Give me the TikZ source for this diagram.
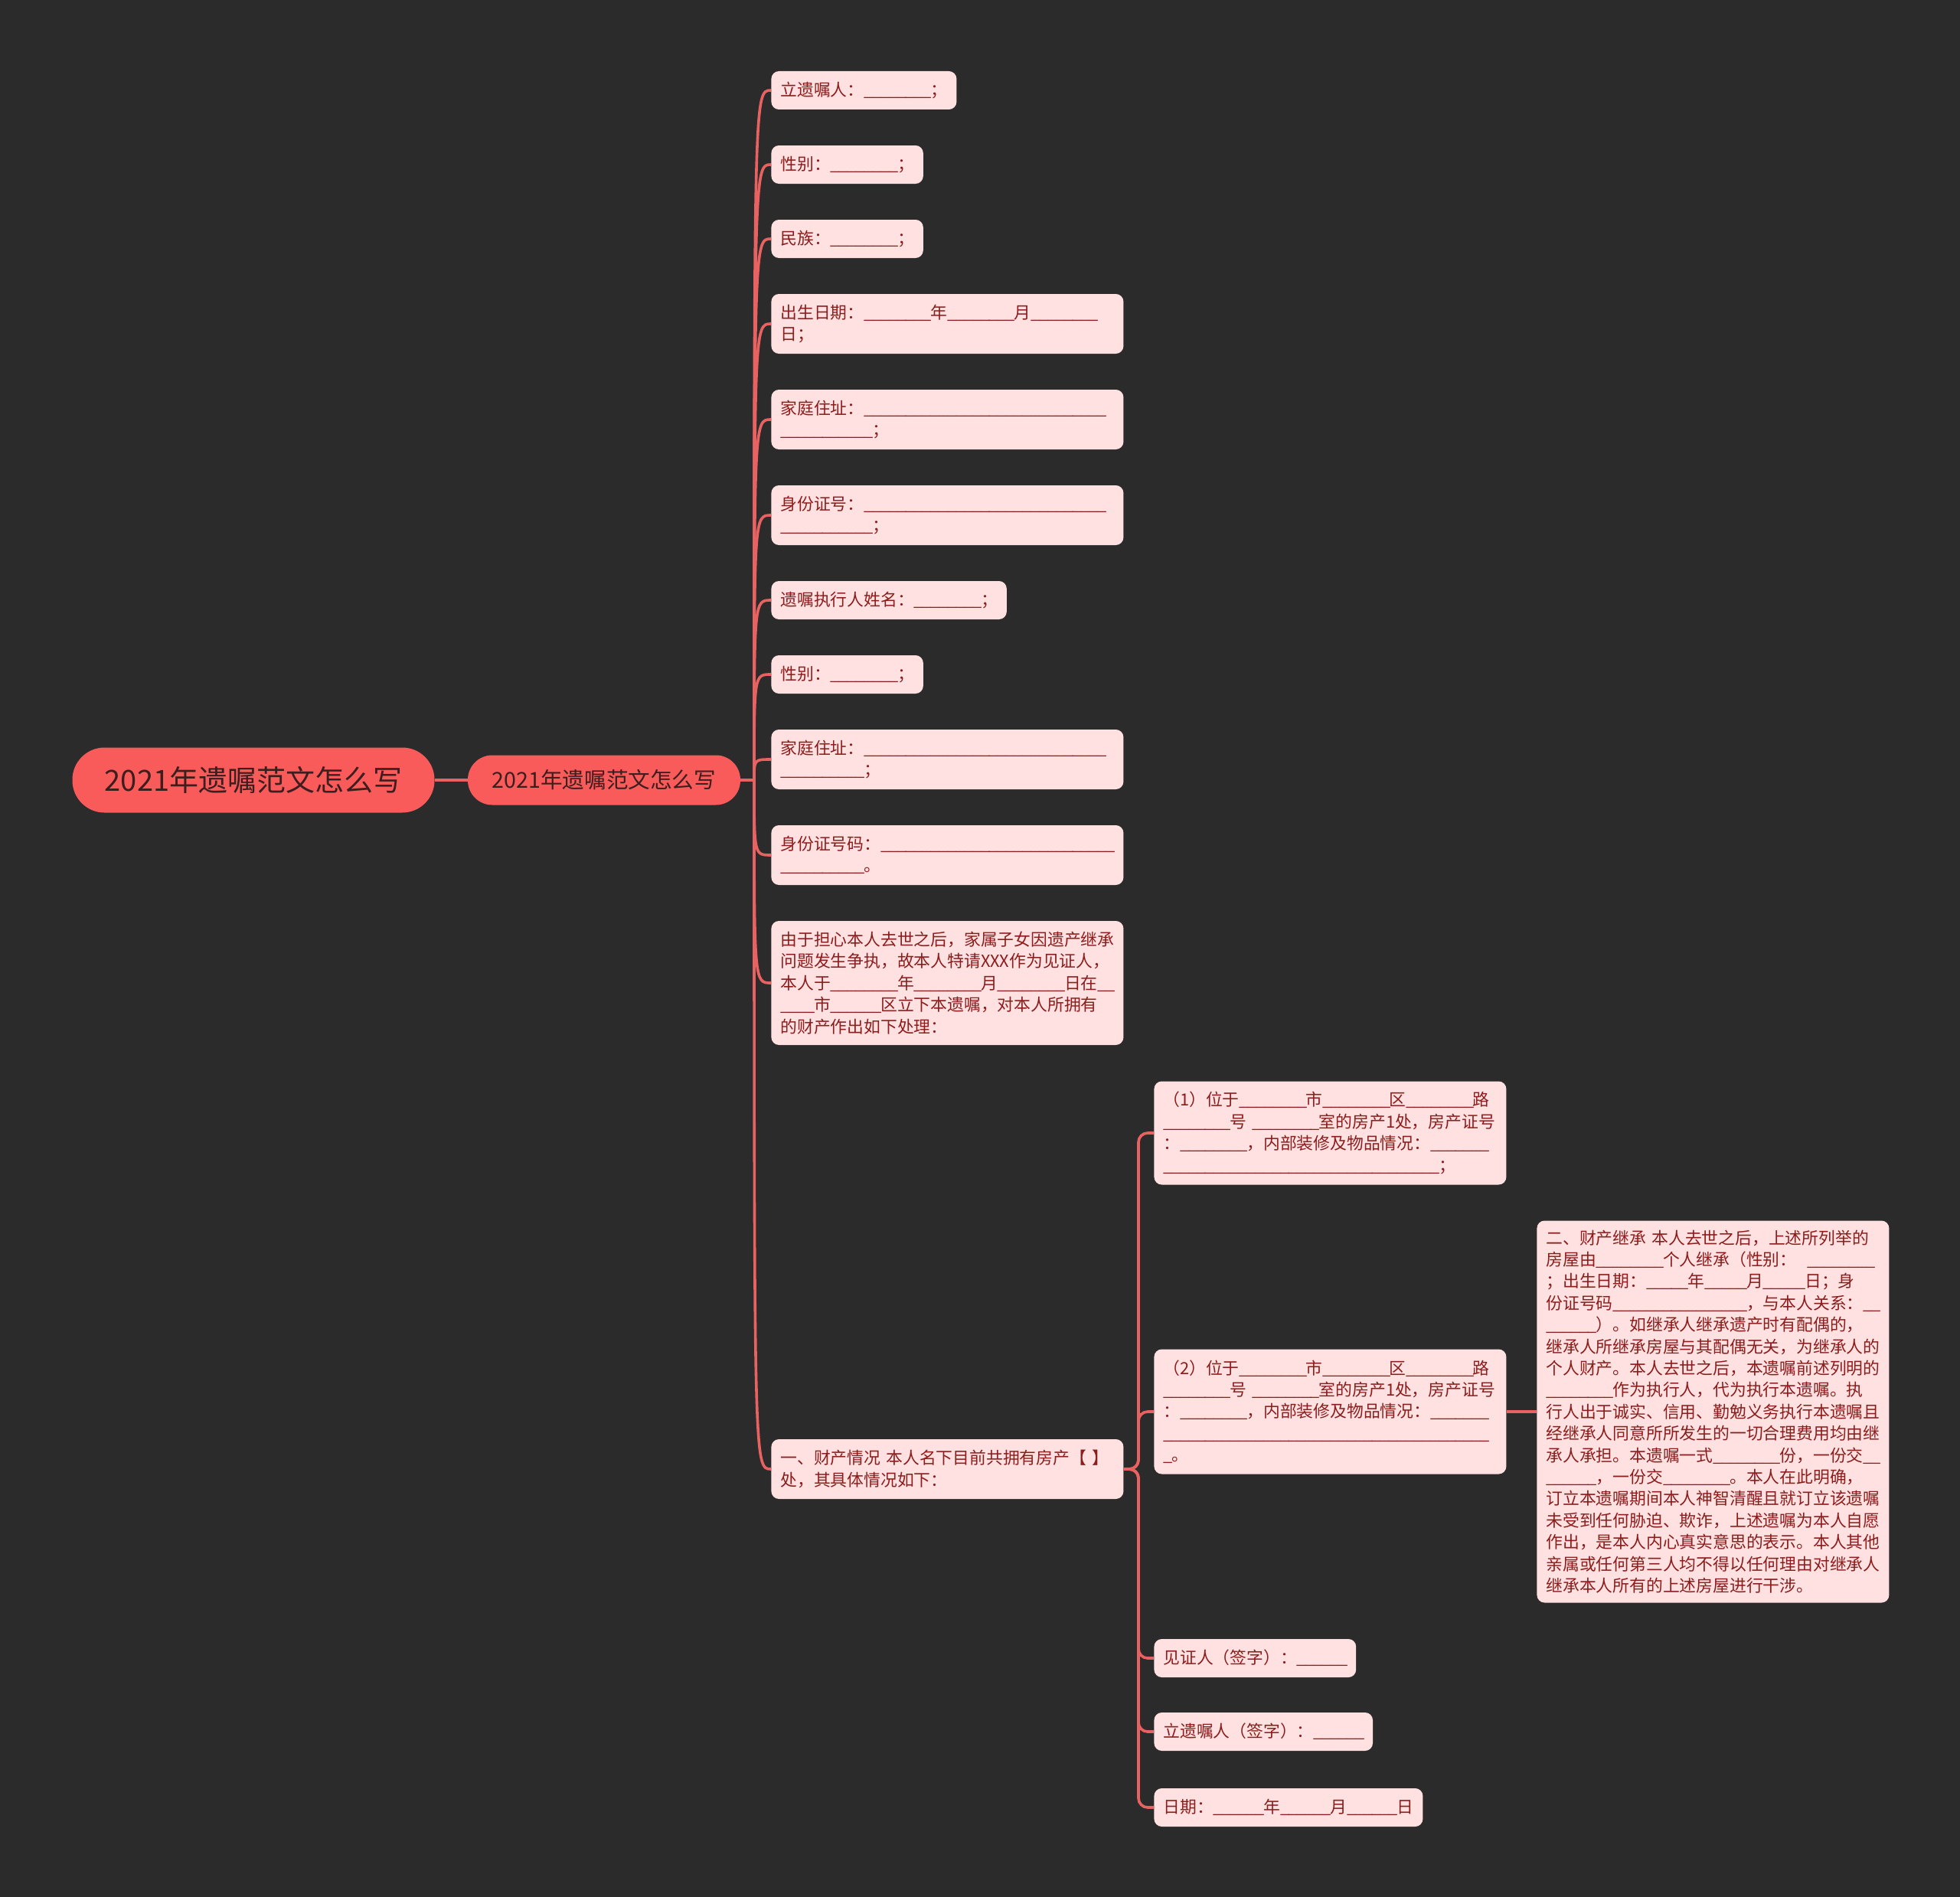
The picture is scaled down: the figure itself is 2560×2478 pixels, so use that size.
\documentclass[tikz,border=0pt]{standalone}
\usepackage{fontspec}
\setmainfont{Noto Sans CJK SC}

\definecolor{bg}{HTML}{2B2B2B}
\definecolor{rootred}{HTML}{F95B5B}
\definecolor{roottext}{HTML}{3C1E1E}
\definecolor{leafpink}{HTML}{FFE1E1}
\definecolor{leaftext}{HTML}{8C1D1D}
\definecolor{linkred}{HTML}{E96262}

\newcommand{\blank}[1]{\foreach \k in {1,...,#1}{\makebox[0.5em][l]{\_}}}

\tikzset{
  root/.style={fill=rootred, text=roottext, rounded corners=21pt, minimum width=236.5pt,
    minimum height=42.5pt, inner sep=0pt, font=\fontsize{19}{22}\selectfont},
  topic/.style={fill=rootred, text=roottext, rounded corners=16pt, minimum width=178pt,
    minimum height=32.5pt, inner sep=0pt, font=\fontsize{14.3}{17}\selectfont},
  leaf/.style={fill=leafpink, text=leaftext, rounded corners=5pt, anchor=west, align=left,
    inner xsep=6pt, inner ysep=0pt, minimum height=25pt, font=\fontsize{10.9}{14.2}\selectfont},
  wide/.style={text width=218pt},
  link/.style={draw=linkred, line width=1.8pt},
}

\begin{document}
\begin{tikzpicture}[x=0.5pt,y=-0.5pt]
  \fill[bg] (0,0) rectangle (2560,2478);

  % centre
  \node[root] (root) at (331,1019) {2021年遗嘱范文怎么写};
  \node[topic] (topic) at (789,1019) {2021年遗嘱范文怎么写};
  \coordinate (hub) at (985,1019);
  \draw[link] (root.east) -- (topic.west);
  \draw[link] (topic.east) -- (hub);

  % first level
  \node[leaf] (will) at (1007,118) {立遗嘱人：\blank{8}；};
  \node[leaf] (sex) at (1007,215) {性别：\blank{8}；};
  \node[leaf] (nation) at (1007,312) {民族：\blank{8}；};
  \node[leaf,wide,minimum height=39pt] (birth) at (1007,423) {出生日期：\blank{8}年\blank{8}月\blank{8}\\日；};
  \node[leaf,wide,minimum height=39pt] (addr) at (1007,548) {家庭住址：\blank{29}\\\blank{11}；};
  \node[leaf,wide,minimum height=39pt] (idno) at (1007,673) {身份证号：\blank{29}\\\blank{11}；};
  \node[leaf] (exec) at (1007,784) {遗嘱执行人姓名：\blank{8}；};
  \node[leaf] (sexb) at (1007,881) {性别：\blank{8}；};
  \node[leaf,wide,minimum height=39pt] (addrb) at (1007,992) {家庭住址：\blank{29}\\\blank{10}；};
  \node[leaf,wide,minimum height=39pt] (idnob) at (1007,1117) {身份证号码：\blank{28}\\\blank{10}。};
  \node[leaf,wide,minimum height=81pt] (intro) at (1007,1284) {由于担心本人去世之后，家属子女因遗产继承\\问题发生争执，故本人特请XXX作为见证人，\\本人于\blank{8}年\blank{8}月\blank{8}日在\blank{2}\\\blank{4}市\blank{6}区立下本遗嘱，对本人所拥有\\的财产作出如下处理：};
  \node[leaf,wide,minimum height=39pt] (prop) at (1007,1919) {一、财产情况~本人名下目前共拥有房产【~】\\处，其具体情况如下：};

  \foreach \n in {will,sex,nation,birth,addr,idno,exec,sexb,addrb,idnob,intro,prop}
    \draw[link] (hub) .. controls (hub |- \n.west) .. (\n.west);

  % second level
  \coordinate (fork) at (1487,1919);
  \node[leaf,wide,minimum height=67.5pt] (house1) at (1507,1480) {（1）位于\blank{8}市\blank{8}区\blank{8}路\\\blank{8}号~\blank{8}室的房产1处，房产证号\\：\blank{8}，内部装修及物品情况：\blank{7}\\\blank{33}；};
  \node[leaf,wide,minimum height=81.5pt] (house2) at (1507,1844) {（2）位于\blank{8}市\blank{8}区\blank{8}路\\\blank{8}号~\blank{8}室的房产1处，房产证号\\：\blank{8}，内部装修及物品情况：\blank{7}\\\blank{39}\\\blank{1}。};
  \node[leaf] (witness) at (1507,2166) {见证人（签字）：\blank{6}};
  \node[leaf] (testator) at (1507,2262) {立遗嘱人（签字）：\blank{6}};
  \node[leaf] (date) at (1507,2361) {日期：\blank{6}年\blank{6}月\blank{6}日};

  \foreach \n in {house1,house2,witness,testator,date}
    \draw[link,rounded corners=6pt] (prop.east) -- (fork) |- (\n.west);

  % third level
  \node[leaf,wide,minimum height=249.5pt] (inherit) at (2007,1844) {二、财产继承~本人去世之后，上述所列举的\\房屋由\blank{8}个人继承（性别：~~\blank{8}\\；出生日期：\blank{5}年\blank{5}月\blank{5}日；身\\份证号码\blank{16}，与本人关系：\blank{2}\\\blank{6}）。如继承人继承遗产时有配偶的，\\继承人所继承房屋与其配偶无关，为继承人的\\个人财产。本人去世之后，本遗嘱前述列明的\\\blank{8}作为执行人，代为执行本遗嘱。执\\行人出于诚实、信用、勤勉义务执行本遗嘱且\\经继承人同意所所发生的一切合理费用均由继\\承人承担。本遗嘱一式\blank{8}份，一份交\blank{2}\\\blank{6}，一份交\blank{8}。本人在此明确，\\订立本遗嘱期间本人神智清醒且就订立该遗嘱\\未受到任何胁迫、欺诈，上述遗嘱为本人自愿\\作出，是本人内心真实意思的表示。本人其他\\亲属或任何第三人均不得以任何理由对继承人\\继承本人所有的上述房屋进行干涉。};
  \draw[link] (house2.east) -- (inherit.west);
\end{tikzpicture}
\end{document}
